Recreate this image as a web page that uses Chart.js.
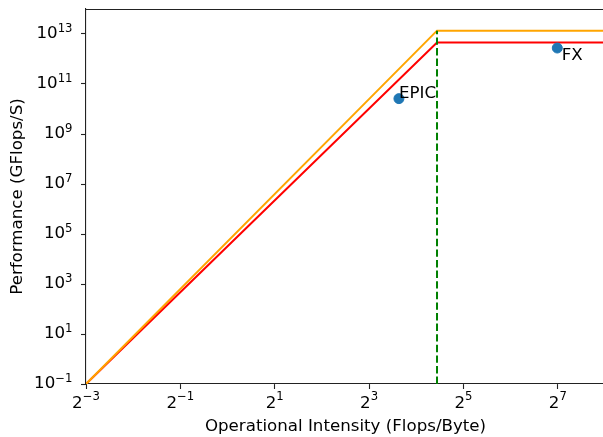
<!DOCTYPE html>
<html>
<head>
<meta charset="utf-8">
<script src="https://cdn.jsdelivr.net/npm/chart.js@4/dist/chart.umd.min.js"></script>
<style>
  html, body { margin: 0; padding: 0; background: #fff; overflow: hidden; }
  #wrap { width: 603px; height: 437px; overflow: hidden; }
</style>
</head>
<body>
<div id="wrap"><canvas id="chart" width="605" height="437"></canvas></div>
<script>
/* roofline data */
var roofX = [0.125, 21.7, 256];
var peakY = [0.1, 1.36e13, 1.36e13];    // orange roof
var attainY = [0.1, 4.6e12, 4.6e12];    // red roof
var ridgeX = [21.7, 21.7];
var ridgeY = [0.1, 1.36e13];

var appNames = ["EPIC", "FX"];
var appX = [12.4, 127];
var appY = [2.6e10, 2.75e12];

var xTicks = [0.125, 0.5, 2, 8, 32, 128];
var xTickLabels = ["2^\u22123", "2^\u22121", "2^1", "2^3", "2^5", "2^7"];
var yTicks = [1e-1, 1e1, 1e3, 1e5, 1e7, 1e9, 1e11, 1e13];
var yTickLabels = ["10^\u22121", "10^1", "10^3", "10^5", "10^7", "10^9", "10^11", "10^13"];

function pts(xs, ys) {
  return xs.map(function(x, i){ return {x: x, y: ys[i]}; });
}

var FONT = "'DejaVu Sans', sans-serif";
var BIG = "16.67px " + FONT, SUP = "11.67px " + FONT;
Chart.defaults.color = "#000";
Chart.defaults.font.family = FONT;
Chart.defaults.font.size = 16.67;

// base + superscript label, returns widths
function measurePow(c, s) {
  var p = s.split("^");
  c.font = BIG; var w1 = c.measureText(p[0]).width;
  c.font = SUP; var w2 = c.measureText(p[1]).width;
  return {base: p[0], exp: p[1], w1: w1, w2: w2};
}
function drawPow(c, m, x, y, raise) {
  c.font = BIG; c.fillText(m.base, x, y);
  c.font = SUP; c.fillText(m.exp, x + m.w1, y - raise);
}

// tick labels, spines on top/right, point labels
var extras = {
  id: "extras",
  afterDraw: function(chart){
    var c = chart.ctx, a = chart.chartArea;
    var xs = chart.scales.x, ys = chart.scales.y;
    c.save();
    c.fillStyle = "#000";
    c.textAlign = "left";
    c.textBaseline = "alphabetic";

    xTicks.forEach(function(v, i){
      var m = measurePow(c, xTickLabels[i]);
      var px = xs.getPixelForValue(v);
      drawPow(c, m, px - (m.w1 + m.w2) / 2, a.bottom + 24.3, 8);
    });
    yTicks.forEach(function(v, i){
      var m = measurePow(c, yTickLabels[i]);
      var py = ys.getPixelForValue(v);
      drawPow(c, m, 72.5 - m.w1 - m.w2, py + 4, 6);
    });

    c.font = BIG;
    var offs = [[0.1, -0.3], [4.4, 11.7]];
    appNames.forEach(function(n, i){
      var px = xs.getPixelForValue(appX[i]);
      var py = ys.getPixelForValue(appY[i]);
      c.fillText(n, px + offs[i][0], py + offs[i][1]);
    });

    c.strokeStyle = "#222";
    c.lineWidth = 1.1;
    c.beginPath();
    c.moveTo(a.left, a.top + 0.5);
    c.lineTo(a.right, a.top + 0.5);
    c.lineTo(a.right, a.bottom);
    c.stroke();
    c.restore();
  }
};

var ctx = document.getElementById("chart").getContext("2d");
var chart = new Chart(ctx, {
  type: "scatter",
  data: {
    datasets: [
      { label: "attainable", data: pts(roofX, attainY), showLine: true, borderColor: "#ff0000",
        borderWidth: 2, pointRadius: 0, order: 4 },
      { label: "peak", data: pts(roofX, peakY), showLine: true, borderColor: "#ffa500",
        borderWidth: 2, pointRadius: 0, order: 3 },
      { label: "ridge", data: pts(ridgeX, ridgeY), showLine: true, borderColor: "#008000",
        borderWidth: 2, borderDash: [7.4, 3.2], pointRadius: 0, order: 2 },
      { label: "apps", data: pts(appX, appY), backgroundColor: "#1f77b4", borderColor: "#1f77b4",
        pointRadius: 5, order: 1 }
    ]
  },
  options: {
    responsive: false,
    animation: false,
    layout: { autoPadding: false, padding: { top: 9, right: 0, left: 0, bottom: 0 } },
    plugins: { legend: { display: false }, tooltip: { enabled: false } },
    scales: {
      x: {
        type: "logarithmic",
        min: 0.125, max: 256,
        afterBuildTicks: function(s){ s.ticks = xTicks.map(function(v){ return {value: v}; }); },
        afterFit: function(s){ s.height = 53; s.paddingLeft = 0; s.paddingRight = 0; },
        ticks: { display: false },
        grid: { display: true, drawOnChartArea: false, drawTicks: true, tickLength: 5, tickColor: "#222", tickWidth: 1.1 },
        border: { display: true, color: "#222", width: 1.1 },
        title: { display: true, text: "Operational Intensity (Flops/Byte)", padding: { top: 0, bottom: 0 } }
      },
      y: {
        type: "logarithmic",
        min: 0.1, max: 1e14,
        afterBuildTicks: function(s){ s.ticks = yTicks.map(function(v){ return {value: v}; }); },
        afterFit: function(s){ s.width = 86; s.paddingTop = 0; s.paddingBottom = 0; },
        ticks: { display: false },
        grid: { display: true, drawOnChartArea: false, drawTicks: true, tickLength: 5, tickColor: "#222", tickWidth: 1.1 },
        border: { display: true, color: "#222", width: 1.1 },
        title: { display: true, text: "Performance (GFlops/S)", padding: { top: 8, bottom: 0 } }
      }
    }
  },
  plugins: [extras]
});
</script>
</body>
</html>
